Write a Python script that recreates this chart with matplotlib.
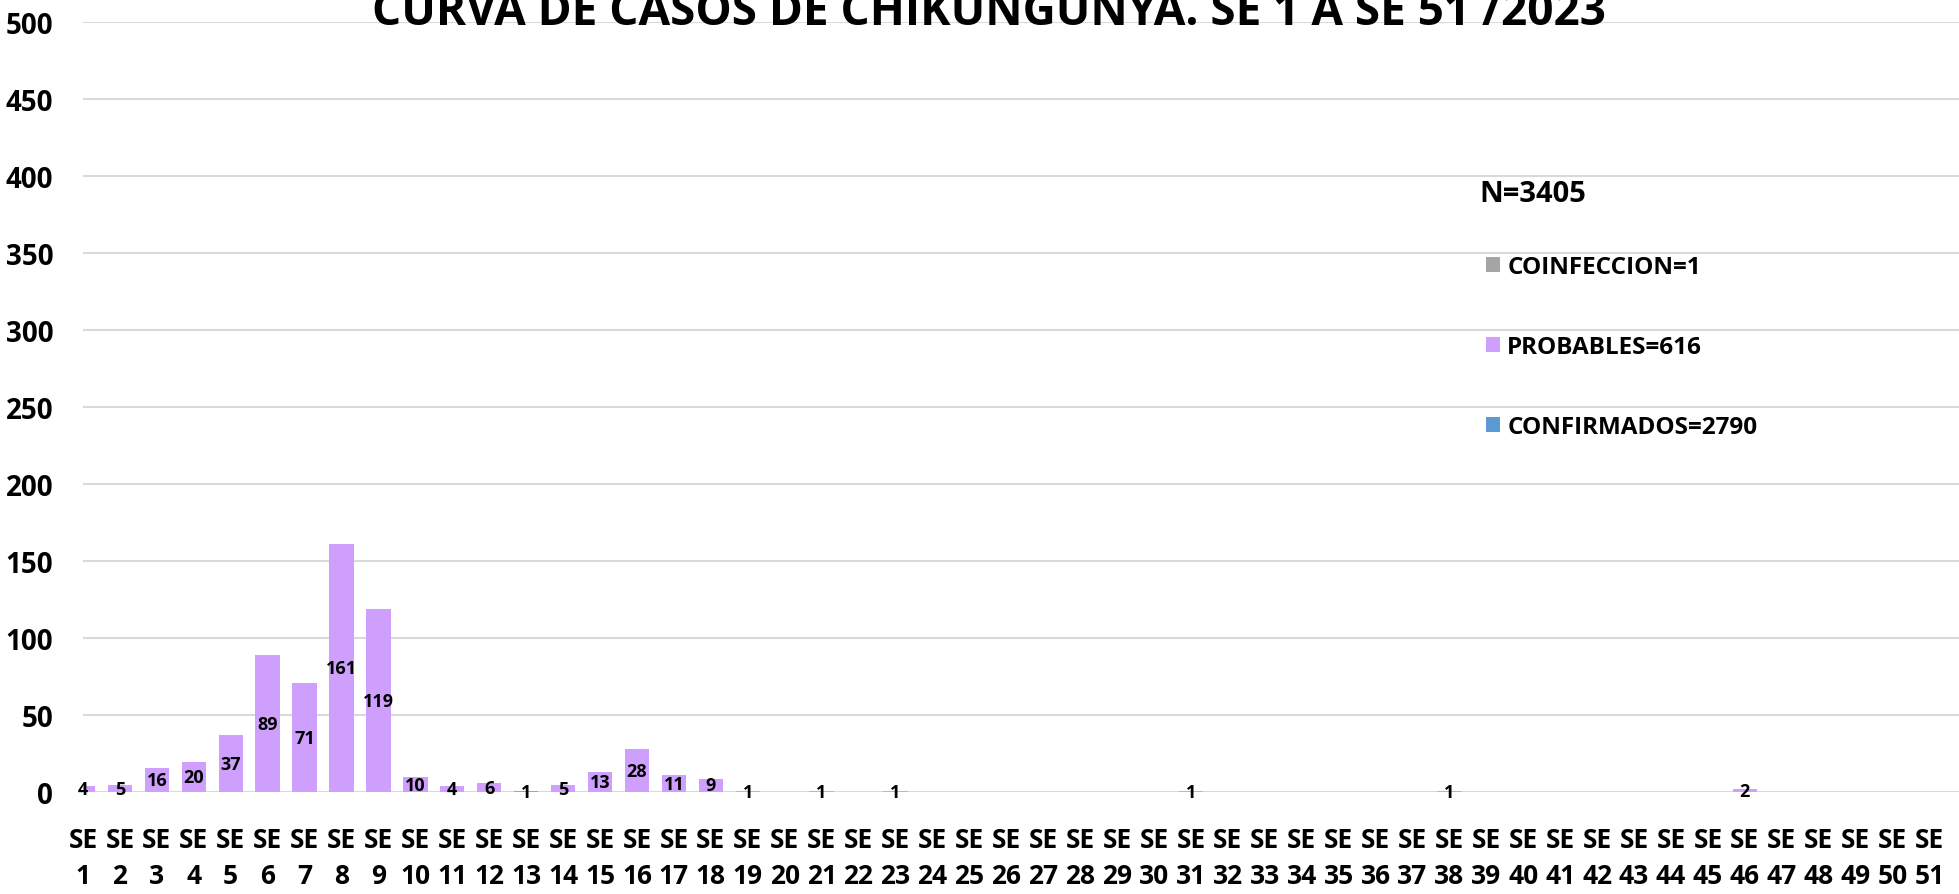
import matplotlib
matplotlib.use("Agg")
import matplotlib.pyplot as plt
from matplotlib.patches import Patch
import numpy as np

# ---- data ----
weeks = [f"SE\n{i}" for i in range(1, 52)]
probables = [4, 5, 16, 20, 37, 89, 71, 161, 119, 10, 4, 6, 0, 5, 13, 28, 11, 9, 1, 0,
             1, 0, 1, 0, 0, 0, 0, 0, 0, 0, 1, 0, 0, 0, 0, 0, 0, 1, 0, 0,
             0, 0, 0, 0, 0, 2, 0, 0, 0, 0, 0]
coinfeccion = [0] * 12 + [1] + [0] * 38
title = "CURVA DE CASOS DE CHIKUNGUNYA. SE 1 A SE 51 /2023"
total_label = "N=3405"
legend_labels = ["COINFECCION=1", "PROBABLES=616", "CONFIRMADOS=2790"]
yticks = [0, 50, 100, 150, 200, 250, 300, 350, 400, 450, 500]

# ---- style ----
C_PROB = "#CE9FFC"
C_COIN = "#A5A5A5"
C_CONF = "#5B9BD5"
GRID = "#D9D9D9"
FAM = ["Open Sans", "DejaVu Sans"]

W, H = 1959, 895
fig = plt.figure(figsize=(W / 100, H / 100), dpi=100)
fig.patch.set_facecolor("white")
ax_left = 83 / W
ax_bottom = 1 - 793.4 / H
ax_top = 1 - 22.7 / H
ax = fig.add_axes([ax_left, ax_bottom, 1 - ax_left, ax_top - ax_bottom])

x = np.arange(len(weeks))
bw = 0.66
ax.bar(x, probables, width=bw, color=C_PROB, zorder=3)
ax.bar(x, coinfeccion, width=bw, bottom=probables, color=C_COIN, zorder=3)

# data labels (centered in bar)
lab_kw = dict(ha="center", va="center", fontsize=13, family=FAM,
              fontweight="bold", fontstretch="condensed", zorder=5, clip_on=False)
for xi, v in zip(x, probables):
    if v > 0:
        ax.text(xi, v / 2, str(v), **lab_kw)
for xi, v, b in zip(x, coinfeccion, probables):
    if v > 0:
        ax.text(xi, b + v / 2, str(v), **lab_kw)

step = 36.93
ax.set_xlim(0, (W - 83) / step)
ax.set_ylim(0, 500)
ax.set_yticks(yticks)
ax.set_yticklabels([str(t) for t in yticks], fontsize=20, family=FAM,
                   fontweight="bold", fontstretch="condensed")
ax.set_xticks(x)
ax.set_xticklabels(weeks, fontsize=19, family=FAM, fontweight="bold",
                   linespacing=1.42, va="top")
ax.tick_params(axis="y", length=0, pad=21.5)
ax.tick_params(axis="x", length=0, pad=24)
for s in ax.spines.values():
    s.set_visible(False)
ax.yaxis.grid(True, color=GRID, linewidth=1.5, zorder=0)
ax.set_axisbelow(True)

# title
fig.text(989 / W, 1 - 25 / H, title, ha="center", va="baseline", fontsize=33,
         family=FAM, fontweight="bold")

# N label
fig.text(1479 / W, 1 - 194 / H, total_label, ha="left", va="center", fontsize=21,
         family=FAM, fontweight="bold")

# legend
handles = [Patch(facecolor=C_COIN), Patch(facecolor=C_PROB), Patch(facecolor=C_CONF)]
fig.legend(handles, legend_labels, loc="upper left",
           bbox_to_anchor=(1486 / W, 1 - 256 / H), frameon=False,
           prop={"family": FAM, "weight": "bold", "size": 17.5},
           handlelength=0.58, handleheight=0.58, handletextpad=0.29,
           labelspacing=2.31, borderpad=0, borderaxespad=0)

fig.savefig("out.png", dpi=100, facecolor="white")
